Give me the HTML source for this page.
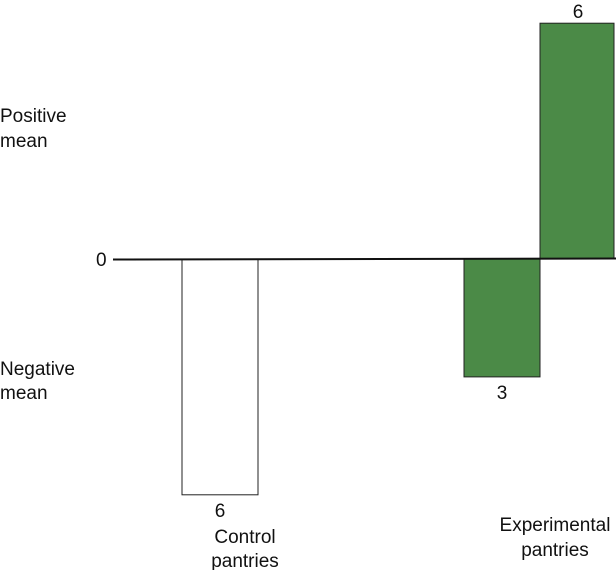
<!DOCTYPE html>
<html><head><meta charset="utf-8"><style>
body{margin:0;background:#fff;}
svg text{font-family:"Liberation Sans",Arial,sans-serif;font-size:19px;fill:#111;}
</style></head><body>
<svg width="616" height="570" id="chart">
<text x="0" y="122">Positive</text>
<text x="0" y="147">mean</text>
<text x="0" y="375">Negative</text>
<text x="0" y="399">mean</text>
<text x="96" y="266">0</text>
<text x="245" y="543" text-anchor="middle">Control</text>
<text x="245" y="567" text-anchor="middle">pantries</text>
<text x="555" y="531" text-anchor="middle">Experimental</text>
<text x="555" y="556" text-anchor="middle">pantries</text>
<g id="bars"></g>
<line x1="113" y1="259.5" x2="616" y2="258.5" stroke="#111" stroke-width="2"/>
</svg>
<script>
const categories = ["Control", "Experimental A", "Experimental B"];
const values = [-6, -3, 6];
const labels = ["6", "3", "6"];
const fills = ["#ffffff", "#4b8a47", "#4b8a47"];
const zeroY = 259, unit = 39.3;
const xs = [182, 464, 540], w = 76;
function yScale(v){ return zeroY - v*unit; }
const g = document.getElementById('bars');
const NS = "http://www.w3.org/2000/svg";
values.forEach((v,i)=>{
  const r = document.createElementNS(NS,'rect');
  const y0 = Math.min(yScale(v), zeroY), h = Math.abs(yScale(v)-zeroY);
  r.setAttribute('x', xs[i]); r.setAttribute('y', y0);
  r.setAttribute('width', i===2 ? 74 : w); r.setAttribute('height', h);
  r.setAttribute('fill', fills[i]); r.setAttribute('stroke', '#222'); r.setAttribute('stroke-width','1');
  
  
  g.appendChild(r);
  const t = document.createElementNS(NS,'text');
  t.setAttribute('x', xs[i] + 38);
  t.setAttribute('y', v < 0 ? yScale(v) + 22 : yScale(v) - 5);
  t.setAttribute('text-anchor','middle');
  t.textContent = labels[i];
  
  
  g.appendChild(t);
});
</script>
</body></html>
